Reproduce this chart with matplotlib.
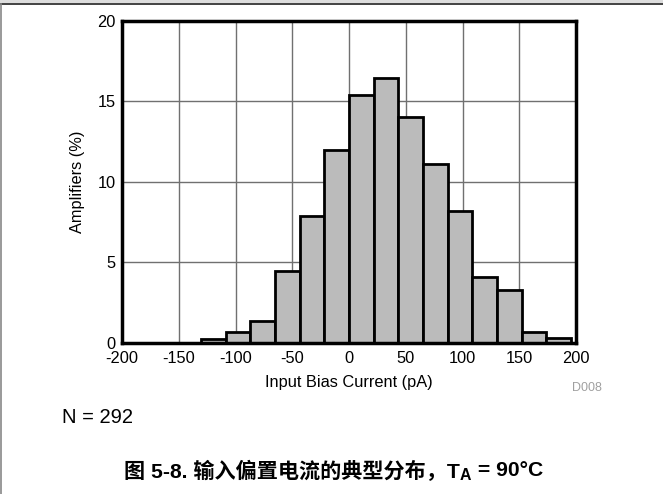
import matplotlib
matplotlib.use("Agg")
import matplotlib.pyplot as plt
from matplotlib.lines import Line2D
from matplotlib.patches import Rectangle

# ---- data ----
bin_edges = [-130.3, -108.6, -86.9, -65.2, -43.4, -21.7, 0.0, 21.7, 43.4,
             65.2, 86.9, 108.6, 130.3, 152.0, 173.8, 195.5]
amplifiers_pct = [0.25, 0.68, 1.37, 4.45, 7.88, 11.99, 15.41, 16.44, 14.04,
                  11.1, 8.22, 4.11, 3.3, 0.68, 0.34]
x_ticks = [-200, -150, -100, -50, 0, 50, 100, 150, 200]
y_ticks = [0, 5, 10, 15, 20]
x_label = "Input Bias Current (pA)"
y_label = "Amplifiers (%)"
note_text = "N = 292"
code_text = "D008"
caption_main = "图 5-8. 输入偏置电流的典型分布，T"
caption_sub = "A"
caption_tail = " = 90°C"

plt.rcParams['font.family'] = ['Liberation Sans', 'Noto Sans CJK SC', 'DejaVu Sans']

W, H = 663, 494
fig = plt.figure(figsize=(W / 100, H / 100), dpi=100)
ax = fig.add_axes([122 / W, 1 - 343 / H, (576 - 122) / W, (343 - 21) / H])

widths = [bin_edges[i + 1] - bin_edges[i] for i in range(len(amplifiers_pct))]
ax.bar(bin_edges[:-1], amplifiers_pct, width=widths, align='edge',
       color='#bbbbbb', edgecolor='black', linewidth=2.0, zorder=3)

ax.set_xlim(-200, 200)
ax.set_ylim(0, 20)
ax.set_xticks(x_ticks)
ax.set_yticks(y_ticks)
ax.set_xticklabels([str(t) for t in x_ticks], fontsize=11.8)
ax.set_yticklabels([str(t) for t in y_ticks], fontsize=11.8)
ax.tick_params(axis='x', length=0, pad=6)
ax.tick_params(axis='y', length=0, pad=4.5)
ax.grid(True, color='#707070', linewidth=1.0, zorder=0)
ax.set_axisbelow(True)
for s in ax.spines.values():
    s.set_linewidth(2.5)
    s.set_zorder(5)

ax.set_xlabel(x_label, fontsize=11.8, labelpad=6)
ax.set_ylabel(y_label, fontsize=11.8, labelpad=9)

fig.text(572 / W, 1 - 388 / H, code_text, fontsize=9, color='#a0a0a0',
         ha='left', va='center')
fig.text(62 / W, 1 - 417 / H, note_text, fontsize=14.5, ha='left', va='center')

# caption with subscript, assembled from pieces
cap_size = 15.2
cap_y = 1 - 471 / H
renderer = fig.canvas.get_renderer()
t1 = fig.text(0, cap_y, caption_main, fontsize=cap_size, fontweight='bold',
              ha='left', va='center')
t2 = fig.text(0, cap_y - 4.5 / H, caption_sub, fontsize=cap_size * 0.75,
              fontweight='bold', ha='left', va='center')
t3 = fig.text(0, cap_y, caption_tail, fontsize=cap_size, fontweight='bold',
              ha='left', va='center')
w1 = t1.get_window_extent(renderer).width
w2 = t2.get_window_extent(renderer).width
w3 = t3.get_window_extent(renderer).width
total = w1 + w2 + w3
x0 = 333.5 - total / 2
t1.set_x(x0 / W)
t2.set_x((x0 + w1) / W)
t3.set_x((x0 + w1 + w2) / W)

# page frame lines
fig.add_artist(Rectangle((0, 1 - 3.5 / H), 1, 3.5 / H, transform=fig.transFigure,
                         color='#dddddd', linewidth=0))
fig.add_artist(Line2D([0, 1], [1 - 4.5 / H, 1 - 4.5 / H], transform=fig.transFigure,
                      color='#222222', linewidth=1.2))
fig.add_artist(Line2D([0.7 / W, 0.7 / W], [0, 1 - 4.5 / H], transform=fig.transFigure,
                      color='#888888', linewidth=1.2))

fig.savefig("out.png", dpi=100)
